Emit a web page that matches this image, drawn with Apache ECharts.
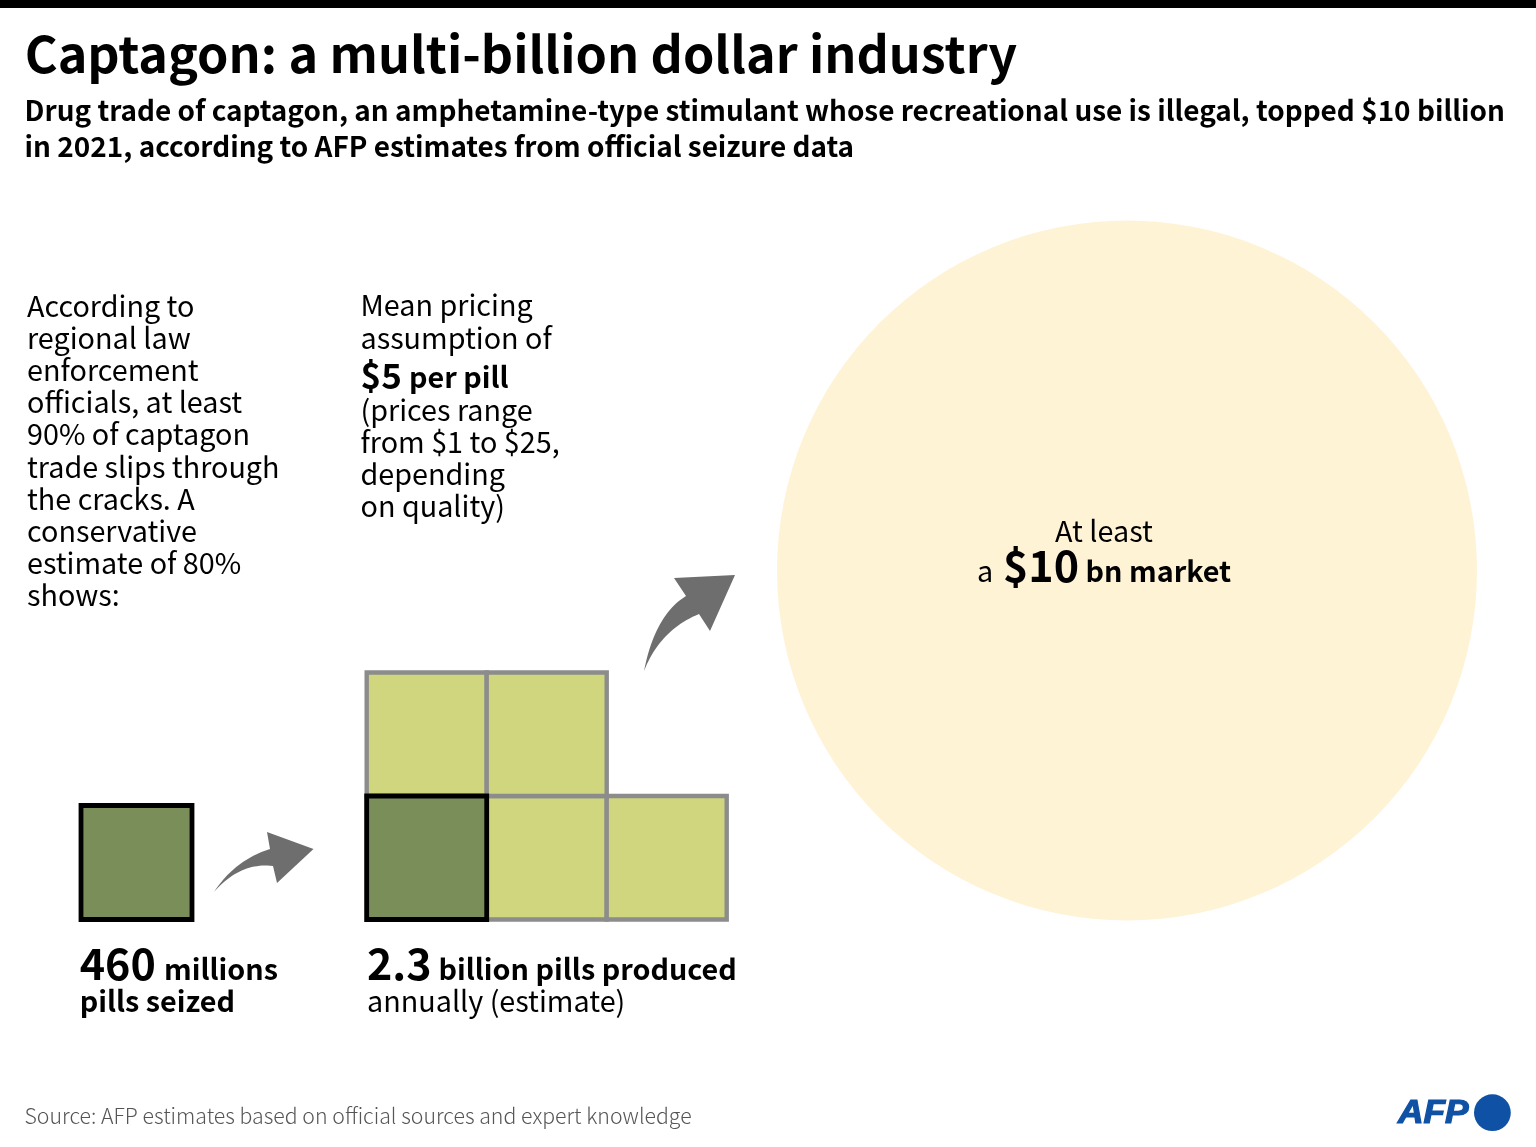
<!DOCTYPE html>
<html><head><meta charset="utf-8">
<style>html,body{margin:0;padding:0;background:#fff}#c{width:1536px;height:1147px}</style>
<script src="https://cdn.jsdelivr.net/npm/echarts@6/dist/echarts.min.js"></script>
</head><body><div id="c"></div>
<script>
// --- data ---
const seizedCells = [[0, 0]];               // 460 million pills seized = one cell
const producedCells = [[0, 0], [1, 0], [2, 0], [0, 1], [1, 1]]; // 2.3 billion = five cells
const knownCells = [[0, 0]];                // the seized share inside the production block
const marketBillions = [10];                // $10 bn market circle

const titleText = 'Captagon: a multi-billion dollar industry';
const subtitleLines = [
  'Drug trade of captagon, an amphetamine-type stimulant whose recreational use is illegal, topped $10 billion',
  'in 2021, according to AFP estimates from official seizure data'
];
const leftNote = ['According to', 'regional law', 'enforcement', 'officials, at least', '90% of captagon', 'trade slips through', 'the cracks. A', 'conservative', 'estimate of 80%', 'shows:'];
const priceNoteTop = ['Mean pricing', 'assumption of'];
const priceNoteBottom = ['(prices range', 'from $1 to $25,', 'depending', 'on quality)'];
const sourceText = 'Source: AFP estimates based on official sources and expert knowledge';

// --- styles ---
const FONT = '"Noto Sans CJK SC","Noto Sans",sans-serif';
const DARK = '#7a8e5a', LIGHT = '#cfd67e', GREY = '#8c8c8c', CREAM = '#fff3d6', ARROW = '#6e6e6e', BLUE = '#0f52a5';
const BODY = 28.75, BIG = 43;

function txt(x, y, text, size, weight, color) {
  return { type: 'text', x: x, y: y, z: 100, silent: true,
    style: { text: text, fill: color || '#000', font: (weight || 'normal') + ' ' + size + 'px ' + FONT,
      textAlign: 'left', textVerticalAlign: 'middle', verticalAlign: 'middle' } };
}
function lines(x, y0, step, arr, size, weight) {
  return arr.map((t, i) => txt(x, y0 + i * step, t, size, weight));
}
// curved arrow outline: sampled quadratic curves joined by straight head edges
function arrow(tail, c1, neckA, head, neckB, c2) {
  const pts = [], N = 24;
  const q = (a, c, b, t) => [
    (1 - t) * (1 - t) * a[0] + 2 * (1 - t) * t * c[0] + t * t * b[0],
    (1 - t) * (1 - t) * a[1] + 2 * (1 - t) * t * c[1] + t * t * b[1]];
  for (let i = 0; i <= N; i++) pts.push(q(tail, c1, neckA, i / N));
  head.forEach(p => pts.push(p));
  for (let i = 0; i <= N; i++) pts.push(q(neckB, c2, tail, i / N));
  return { type: 'polygon', z: 100, silent: true, shape: { points: pts }, style: { fill: ARROW } };
}
function cellSeries(gridIndex, data, fill, stroke, lineWidth, z) {
  return { type: 'custom', coordinateSystem: 'cartesian2d', xAxisIndex: gridIndex, yAxisIndex: gridIndex, z: z, silent: true, clip: false,
    data: data,
    encode: { x: 0, y: 1 },
    renderItem: function (params, api) {
      const p = api.coord([api.value(0), api.value(1) + 1]);
      const s = api.size([1, 1]);
      return { type: 'rect', shape: { x: p[0], y: p[1], width: s[0], height: s[1] },
        style: { fill: fill, stroke: stroke, lineWidth: lineWidth } };
    } };
}
const hiddenAxis = (gridIndex, max) => ({ type: 'value', gridIndex: gridIndex, min: 0, max: max, show: false });

const option = {
  animation: false,
  backgroundColor: '#fff',
  grid: [
    { left: 81, top: 805.5, width: 111, height: 114 },
    { left: 366.7, top: 672.5, width: 360, height: 247 },
    { left: 777, top: 220.5, width: 700, height: 700 }
  ],
  xAxis: [hiddenAxis(0, 1), hiddenAxis(1, 3), hiddenAxis(2, 10)],
  yAxis: [hiddenAxis(0, 1), hiddenAxis(1, 2), hiddenAxis(2, 10)],
  series: [
    { type: 'custom', coordinateSystem: 'cartesian2d', xAxisIndex: 2, yAxisIndex: 2, z: 1, silent: true, clip: false,
      data: marketBillions.map(v => [v, v]),
      encode: { x: 0, y: 1 },
      renderItem: function (params, api) {
        const v = api.value(0);
        const c = api.coord([v / 2, v / 2]);
        const r = api.size([v / 2, 0])[0];
        return { type: 'circle', shape: { cx: c[0], cy: c[1], r: r }, style: { fill: CREAM } };
      } },
    cellSeries(0, seizedCells, DARK, '#000', 4.8, 3),
    cellSeries(1, producedCells, LIGHT, GREY, 4.4, 3),
    cellSeries(1, knownCells, DARK, '#000', 4.8, 4)
  ],
  graphic: { elements: [
    { type: 'rect', z: 100, silent: true, shape: { x: 0, y: 0, width: 1536, height: 8 }, style: { fill: '#000' } },
    txt(24.7, 54, titleText, 50.25, 'bold'),
    ...lines(24.6, 110, 36, subtitleLines, 27.93, 'bold'),
    ...lines(27, 306, 32.12, leftNote, BODY),
    ...lines(360.5, 305.3, 32.3, priceNoteTop, BODY),
    txt(360.5, 375.5, '$5', 35, 'bold'),
    txt(409, 377.5, 'per pill', BODY, 'bold'),
    ...lines(360.5, 410, 32, priceNoteBottom, BODY),
    txt(1055, 531, 'At least', BODY),
    txt(977, 571, 'a', BODY),
    txt(1003, 566, '$10', BIG, 'bold'),
    txt(1085.5, 571, 'bn market', BODY, 'bold'),
    txt(79.7, 964, '460', BIG, 'bold'),
    txt(164, 969, 'millions', BODY, 'bold'),
    txt(79.7, 1001, 'pills seized', BODY, 'bold'),
    txt(367, 964, '2.3', BIG, 'bold'),
    txt(438.5, 969, 'billion pills produced', BODY, 'bold'),
    txt(367, 1001, 'annually (estimate)', BODY),
    txt(24.5, 1116, sourceText, 21.27, '300', '#555'),
    arrow([644, 671], [655, 615], [686, 596], [[674, 578], [735, 575], [710, 631]], [699, 614], [660, 630]),
    arrow([214, 892], [235, 860], [270, 849], [[267, 832], [313.5, 849], [277, 883]], [273, 866], [240, 862]),
    { type: 'text', x: 1398, y: 1113.5, z: 100, silent: true, scaleX: 1.07,
      style: { text: 'AFP', fill: BLUE, stroke: BLUE, lineWidth: 1.2, font: 'italic bold 33px "Liberation Sans",sans-serif', verticalAlign: 'middle', textVerticalAlign: 'middle' } },
    { type: 'circle', z: 100, silent: true, shape: { cx: 1492.4, cy: 1112.7, r: 18.4 }, style: { fill: BLUE } }
  ] }
};
const chart = echarts.init(document.getElementById('c'), null, { renderer: 'canvas' });
chart.setOption(option);
</script></body></html>
